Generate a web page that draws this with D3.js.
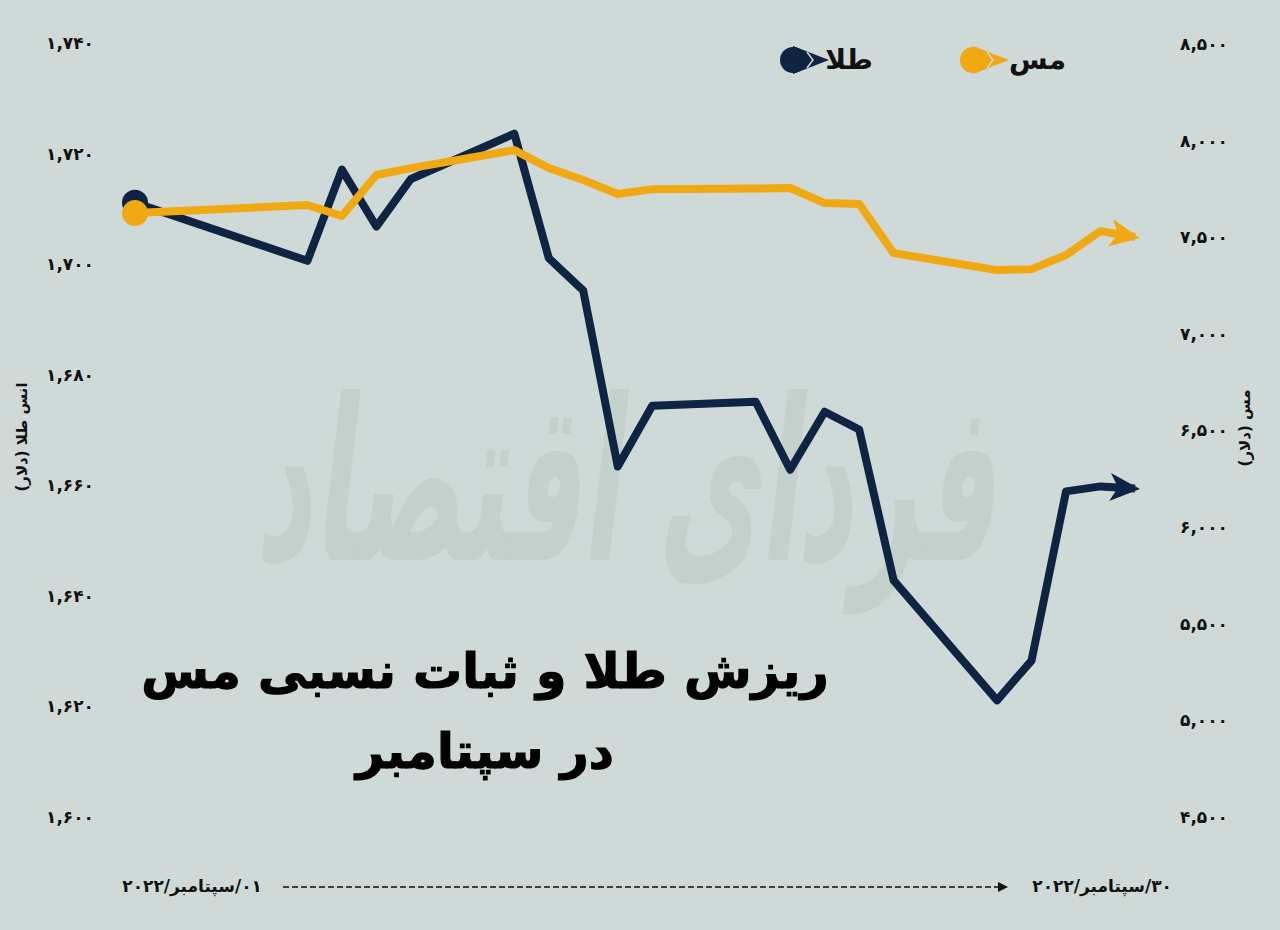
<!DOCTYPE html>
<html>
<head>
<meta charset="utf-8">
<script src="https://cdn.jsdelivr.net/npm/d3@7"></script>
<style>
html,body{margin:0;padding:0;background:#cfd9d7;}
svg{display:block;}
text{font-family:"DejaVu Sans",sans-serif;}
</style>
</head>
<body>
<script>
// ---- data ----
const days = [1,6,7,8,9,12,13,14,15,16,19,20,21,22,23,26,27,28,29,30];
const goldValues = [1711.1,1700.6,1717.1,1706.8,1715.4,1723.6,1701.1,1695.2,1663.4,1674.4,1675.1,1662.8,1673.3,1670.1,1642.8,1621.1,1628.3,1658.9,1659.8,1659.4];
const copperValues = [7625,7667,7610,7822,7858,7951,7858,7796,7724,7749,7752,7755,7677,7672,7418,7330,7335,7408,7532,7501];
const goldTicks = [1600,1620,1640,1660,1680,1700,1720,1740];
const copperTicks = [4500,5000,5500,6000,6500,7000,7500,8000,8500];
const seriesNames = ["طلا","مس"];
const goldAxisTitle = "انس طلا (دلار)";
const copperAxisTitle = "مس (دلار)";
const titleLines = ["ریزش طلا و ثبات نسبی مس","در سپتامبر"];
const startLabel = "۰۱/سپتامبر/۲۰۲۲";
const endLabel = "۳۰/سپتامبر/۲۰۲۲";
const watermark = "فردای اقتصاد";

const W = 1280, H = 930;
const navy = "#0f2442", orange = "#f0a912", bg = "#cfd9d7";
const fa = s => String(s).replace(/[0-9]/g, d => "۰۱۲۳۴۵۶۷۸۹"[+d]);

const svg = d3.select("body").append("svg").attr("width", W).attr("height", H);
svg.append("rect").attr("width", W).attr("height", H).attr("fill", bg);

// watermark
svg.append("text")
  .attr("transform", "translate(625,560) scale(1,1.5) skewX(-10)")
  .attr("text-anchor", "middle")
  .attr("font-size", 150)
  .attr("font-weight", "bold")
  .attr("fill", "#c3d0cc")
  .attr("textLength", 740)
  .attr("lengthAdjust", "spacingAndGlyphs")
  .style("direction", "rtl")
  .text(watermark);

const x = d3.scaleLinear().domain([1,30]).range([135,1135]);
const yG = d3.scaleLinear().domain([1600,1740]).range([817,43]);
const yC = d3.scaleLinear().domain([4500,8500]).range([817,44]);

// axes
const gAxis = svg.append("g").attr("transform","translate(94,0)")
  .call(d3.axisLeft(yG).tickValues(goldTicks).tickSize(0).tickPadding(0).tickFormat(d => fa(d3.format(",")(d))));
const cAxis = svg.append("g").attr("transform","translate(1180,0)")
  .call(d3.axisRight(yC).tickValues(copperTicks).tickSize(0).tickPadding(0).tickFormat(d => fa(d3.format(",")(d))));
[gAxis,cAxis].forEach(a => {
  a.select(".domain").remove();
  a.selectAll("text").attr("font-size",17).attr("font-weight","bold").attr("fill","#111")
   .attr("font-family","DejaVu Sans").style("direction","ltr");
});

// axis titles
svg.append("text").attr("transform","translate(27,437) rotate(-90)")
  .attr("text-anchor","middle").attr("font-size",15).attr("font-weight","bold").attr("fill","#111")
  .style("direction","rtl").text(goldAxisTitle);
svg.append("text").attr("transform","translate(1250,428) rotate(-90)")
  .attr("text-anchor","middle").attr("font-size",15).attr("font-weight","bold").attr("fill","#111")
  .style("direction","rtl").text(copperAxisTitle);

// arrow markers
const defs = svg.append("defs");
[["arrNavy",navy],["arrOrange",orange]].forEach(([id,c]) => {
  defs.append("marker").attr("id",id).attr("markerUnits","userSpaceOnUse")
    .attr("viewBox","0 -15 32 30").attr("markerWidth",32).attr("markerHeight",30)
    .attr("refX",25).attr("refY",0).attr("orient","auto")
    .append("path").attr("d","M0,-14 L30,0 L0,14 L8,0 Z").attr("fill",c);
});

const goldData = days.map((d,i) => [d, goldValues[i]]);
const copperData = days.map((d,i) => [d, copperValues[i]]);

const lineG = d3.line().x(d => x(d[0])).y(d => yG(d[1]));
const lineC = d3.line().x(d => x(d[0])).y(d => yC(d[1]));

svg.append("path").datum(goldData).attr("d", lineG).attr("fill","none")
  .attr("stroke",navy).attr("stroke-width",8).attr("stroke-linejoin","round")
  .attr("marker-end","url(#arrNavy)");
svg.append("path").datum(copperData).attr("d", lineC).attr("fill","none")
  .attr("stroke",orange).attr("stroke-width",8).attr("stroke-linejoin","round")
  .attr("marker-end","url(#arrOrange)");

// start markers
svg.append("circle").attr("cx",x(days[0])).attr("cy",yG(goldValues[0])).attr("r",13).attr("fill",navy);
svg.append("circle").attr("cx",x(days[0])).attr("cy",yC(copperValues[0])).attr("r",13).attr("fill",orange);

// legend
const legend = [{name:seriesNames[0], c:navy, cx:793, tx:873},{name:seriesNames[1], c:orange, cx:973, tx:1066}];
legend.forEach(l => {
  const g = svg.append("g");
  g.append("path").attr("d",`M${l.cx},${46} L${l.cx+36},60 L${l.cx},${74} Z`).attr("fill",l.c);
  g.append("circle").attr("cx",l.cx).attr("cy",60).attr("r",13).attr("fill",l.c);
  g.append("path").attr("d",`M${l.cx+14},52 L${l.cx+20},60 L${l.cx+14},68`).attr("fill","none").attr("stroke",bg).attr("stroke-width",1.5);
  g.append("text").attr("x",l.tx).attr("y",69).attr("text-anchor","end")
    .attr("font-size",28).attr("font-weight","bold").attr("fill","#111").text(l.name);
});

// title
titleLines.forEach((t,i) => {
  svg.append("text").attr("x",485).attr("y",i===0?688:768).attr("text-anchor","middle")
    .attr("font-size",49).attr("font-weight","bold").attr("fill","#000")
    .attr("stroke","#000").attr("stroke-width",1.2)
    .style("direction","rtl").text(t);
});

// bottom time axis
svg.append("text").attr("x",262).attr("y",892).attr("text-anchor","start")
  .attr("font-size",17).attr("font-weight","bold").attr("fill","#111")
  .style("direction","rtl").text(startLabel);
svg.append("text").attr("x",1172).attr("y",892).attr("text-anchor","start")
  .attr("font-size",17).attr("font-weight","bold").attr("fill","#111")
  .style("direction","rtl").text(endLabel);
svg.append("line").attr("x1",283).attr("x2",1000).attr("y1",887).attr("y2",887)
  .attr("stroke","#111").attr("stroke-width",1.6).attr("stroke-dasharray","6,3");
svg.append("path").attr("d","M998,882 L1008,887 L998,892 Z").attr("fill","#111");
</script>
</body>
</html>
